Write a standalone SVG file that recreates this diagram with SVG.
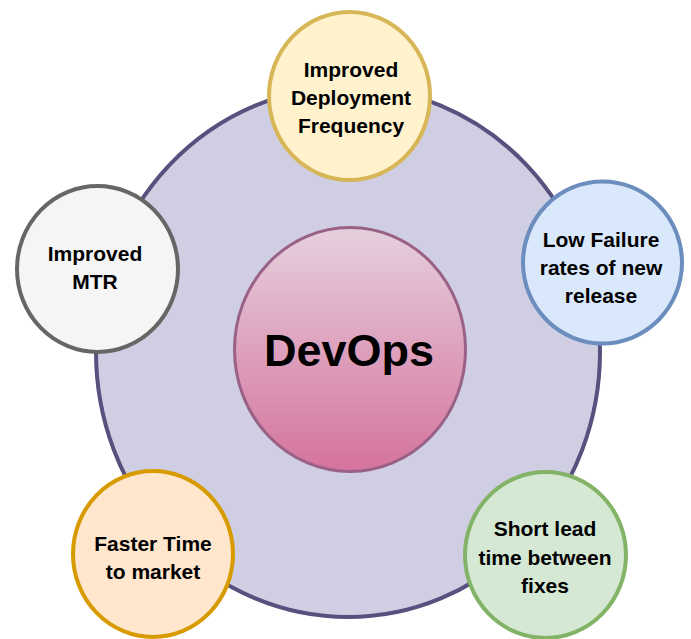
<svg xmlns="http://www.w3.org/2000/svg" width="691" height="639" viewBox="0 0 691 639">
<defs>
<linearGradient id="pinkGrad" x1="0" y1="0" x2="0" y2="1">
<stop offset="0" stop-color="#E6D0DE"/>
<stop offset="1" stop-color="#D5739D"/>
</linearGradient>
<style>
.lbl{font-family:"Liberation Sans",Arial,sans-serif;font-weight:bold;font-size:21px;fill:#000;text-anchor:middle}
.big{font-size:45px}
.sm{stroke-width:4}
</style>
</defs>
<rect width="691" height="639" fill="#FFFFFF"/>
<g id="ring">
<ellipse cx="348" cy="352" rx="252" ry="265" fill="#D0CEE2" stroke="#56517E" stroke-width="4"/>
</g>
<g id="connectors"/>
<g id="devops">
<ellipse cx="350" cy="349.5" rx="115.5" ry="122" fill="url(#pinkGrad)" stroke="#996185" stroke-width="3"/>
<text class="lbl big" x="349" y="366">DevOps</text>
</g>
<g id="deployment">
<ellipse class="sm" cx="349.5" cy="96" rx="80.5" ry="84" fill="#FFF2CC" stroke="#D6B656"/>
<text class="lbl" x="351"><tspan x="351" y="77">Improved</tspan><tspan x="351" y="104.5">Deployment</tspan><tspan x="351" y="132.5">Frequency</tspan></text>
</g>
<g id="failure">
<ellipse class="sm" cx="602.5" cy="262.5" rx="79.5" ry="81" fill="#DAE8FC" stroke="#6C8EBF"/>
<text class="lbl"><tspan x="601" y="247">Low Failure</tspan><tspan x="601" y="274.5">rates of new</tspan><tspan x="601" y="302.5">release</tspan></text>
</g>
<g id="mtr">
<ellipse class="sm" cx="97.5" cy="269" rx="80.5" ry="83" fill="#F5F5F5" stroke="#666666"/>
<text class="lbl"><tspan x="95" y="261">Improved</tspan><tspan x="95" y="289">MTR</tspan></text>
</g>
<g id="market">
<ellipse class="sm" cx="153" cy="554" rx="80" ry="83" fill="#FFE6CC" stroke="#D79B00"/>
<text class="lbl"><tspan x="153" y="551">Faster Time</tspan><tspan x="153" y="579">to market</tspan></text>
</g>
<g id="leadtime">
<ellipse class="sm" cx="545.5" cy="555" rx="80.5" ry="83" fill="#D5E8D4" stroke="#82B366"/>
<text class="lbl"><tspan x="545" y="536">Short lead</tspan><tspan x="545" y="564.5">time between</tspan><tspan x="545" y="592.5">fixes</tspan></text>
</g>
</svg>
